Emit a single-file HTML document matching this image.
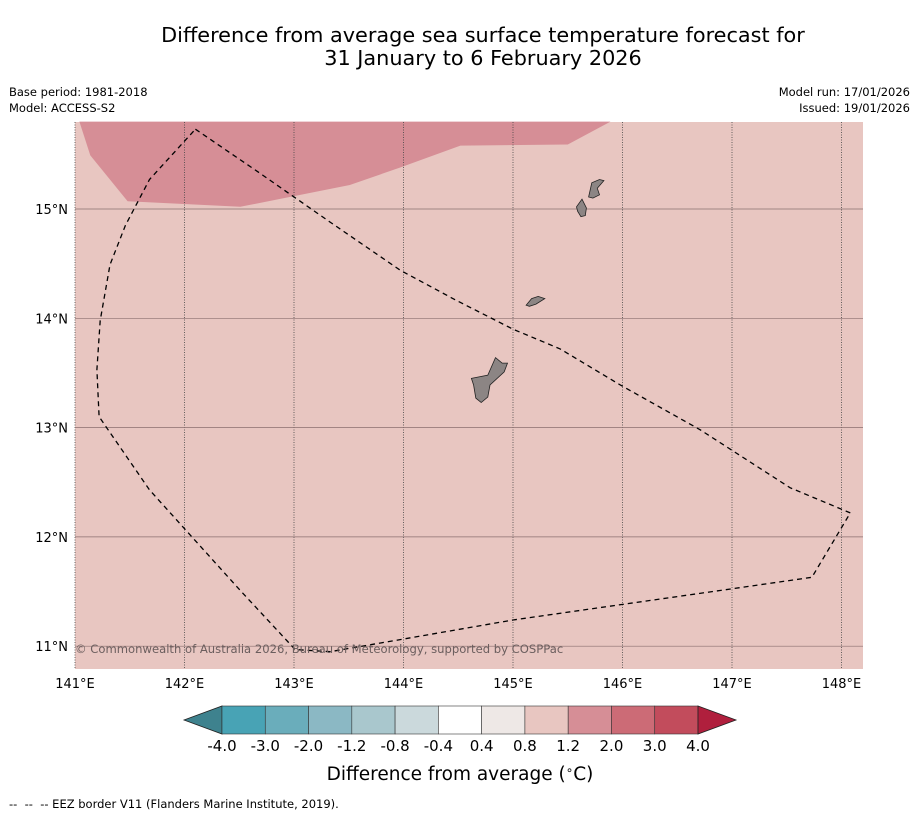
<!DOCTYPE html>
<html><head><meta charset="utf-8"><style>
body{margin:0;background:#fff;width:919px;height:816px;overflow:hidden;font-family:"DejaVu Sans","Liberation Sans",sans-serif}
</style></head><body>
<svg id="chart" width="919" height="816" xmlns="http://www.w3.org/2000/svg" font-family="DejaVu Sans, Liberation Sans, sans-serif">
<text x="483" y="42" font-size="20.8" text-anchor="middle">Difference from average sea surface temperature forecast for</text>
<text x="483" y="65" font-size="20.8" text-anchor="middle">31 January to 6 February 2026</text>
<text x="9" y="96" font-size="11.5">Base period: 1981-2018</text>
<text x="9" y="112" font-size="11.5">Model: ACCESS-S2</text>
<text x="910" y="96" font-size="11.5" text-anchor="end">Model run: 17/01/2026</text>
<text x="910" y="112" font-size="11.5" text-anchor="end">Issued: 19/01/2026</text>
<g id="map"></g>
<g id="cbar"></g>
<text x="460" y="780" font-size="18.5" text-anchor="middle">Difference from average (<tspan font-size="12" dy="-6">∘</tspan><tspan dy="6">C)</tspan></text>
<text x="9" y="808" font-size="11.5" xml:space="preserve">--  --  -- EEZ border V11 (Flanders Marine Institute, 2019).</text>
</svg>
<script>
const lonTicks=[141,142,143,144,145,146,147,148];
const latTicks=[15,14,13,12,11];
const warmRegion=[[141.04,15.8],[141.14,15.49],[141.48,15.07],[142.51,15.02],[142.96,15.11],[143.51,15.22],[143.97,15.38],[144.52,15.58],[145.5,15.59],[145.89,15.8]];
const eez=[[142.10,15.73],[142.67,15.34],[143.33,14.88],[143.97,14.44],[144.47,14.17],[145.0,13.90],[145.43,13.72],[145.98,13.39],[146.71,12.98],[147.53,12.45],[148.08,12.22],[147.73,11.63],[146.89,11.51],[145.0,11.24],[143.97,11.06],[143.33,10.95],[143.01,10.97],[142.51,11.51],[141.68,12.43],[141.22,13.10],[141.20,13.53],[141.23,13.98],[141.32,14.49],[141.46,14.85],[141.68,15.27],[142.10,15.73]];
const guam=[[144.62,13.45],[144.77,13.48],[144.84,13.64],[144.90,13.59],[144.95,13.59],[144.92,13.51],[144.79,13.39],[144.77,13.28],[144.71,13.23],[144.66,13.27],[144.64,13.39]];
const rota=[[145.12,14.12],[145.17,14.18],[145.23,14.20],[145.29,14.18],[145.21,14.13],[145.15,14.11]];
const tinian=[[145.58,15.02],[145.63,15.09],[145.67,15.01],[145.66,14.94],[145.62,14.93],[145.59,14.98]];
const saipan=[[145.69,15.11],[145.72,15.24],[145.79,15.27],[145.83,15.26],[145.77,15.19],[145.79,15.13],[145.73,15.10]];
const cbLabels=["-4.0","-3.0","-2.0","-1.2","-0.8","-0.4","0.4","0.8","1.2","2.0","3.0","4.0"];
const cbColors=["#48a3b5","#6aadbb","#8bb8c4","#a9c7cd","#cbd9dc","#ffffff","#eee8e6","#e8c6c1","#d68e96","#cc6b76","#c24c5c"];
const NS="http://www.w3.org/2000/svg";
const X0=75,X1=863,Y0=122,Y1=669;
const xs=lon=>75+(lon-141)*109.5;
const ys=lat=>209+(15-lat)*109.3;
function el(t,a,p){const e=document.createElementNS(NS,t);for(const k in a)e.setAttribute(k,a[k]);p.appendChild(e);return e;}
const map=document.getElementById('map');
const bg=el('rect',{x:X0,y:Y0,width:X1-X0,height:Y1-Y0,fill:'#e8c6c1'},map);


const pts=a=>a.map(p=>xs(p[0]).toFixed(1)+','+ys(p[1]).toFixed(1)).join(' ');
const wr=el('polygon',{points:pts(warmRegion),fill:'#d68e96'},map);


lonTicks.forEach(l=>{
 const g=el('line',{x1:xs(l),x2:xs(l),y1:Y0,y2:Y1,stroke:'#444','stroke-width':0.8,'stroke-dasharray':'1,1.5'},map);
 
 
 const t=el('text',{x:xs(l),y:688,'font-size':13,'text-anchor':'middle'},map);t.textContent=l+'°E';
 
 
});
latTicks.forEach(l=>{
 const g=el('line',{x1:X0,x2:X1,y1:ys(l),y2:ys(l),stroke:'#8a6f6f','stroke-width':0.7},map);
 
 
 const t=el('text',{x:68,y:ys(l)+5,'font-size':13,'text-anchor':'end'},map);t.textContent=l+'°N';
 
 
});
[[guam,'guam'],[rota,'rota'],[tinian,'tinian'],[saipan,'saipan']].forEach(([d,n])=>{
 const p=el('polygon',{points:pts(d),fill:'#8c8584',stroke:'#222','stroke-width':0.8},map);
 
 
});
const e=el('polyline',{points:pts(eez),fill:'none',stroke:'#000','stroke-width':1.3,'stroke-dasharray':'5,4'},map);


const cp=el('text',{x:75,y:653,'font-size':11.6,fill:'#6b5e5e'},map);
cp.textContent='© Commonwealth of Australia 2026, Bureau of Meteorology, supported by COSPPac';


const cb=document.getElementById('cbar');
const cx0=222,cw=(698-222)/cbColors.length,cy=706,ch=28;
const lt=el('polygon',{points:`184,${cy+ch/2} ${cx0},${cy} ${cx0},${cy+ch}`,fill:'#3e828e',stroke:'#222','stroke-width':0.8},cb);


cbColors.forEach((c,i)=>{
 const r=el('rect',{x:cx0+i*cw,y:cy,width:cw,height:ch,fill:c,stroke:'#333','stroke-width':0.6},cb);
 
 
});
const rt=el('polygon',{points:`698,${cy} 736,${cy+ch/2} 698,${cy+ch}`,fill:'#b01f3d',stroke:'#222','stroke-width':0.8},cb);


cbLabels.forEach((l,i)=>{
 const t=el('text',{x:cx0+i*cw,y:751,'font-size':15,'text-anchor':'middle'},cb);t.textContent=l;
 
 
});
</script>
</body></html>
